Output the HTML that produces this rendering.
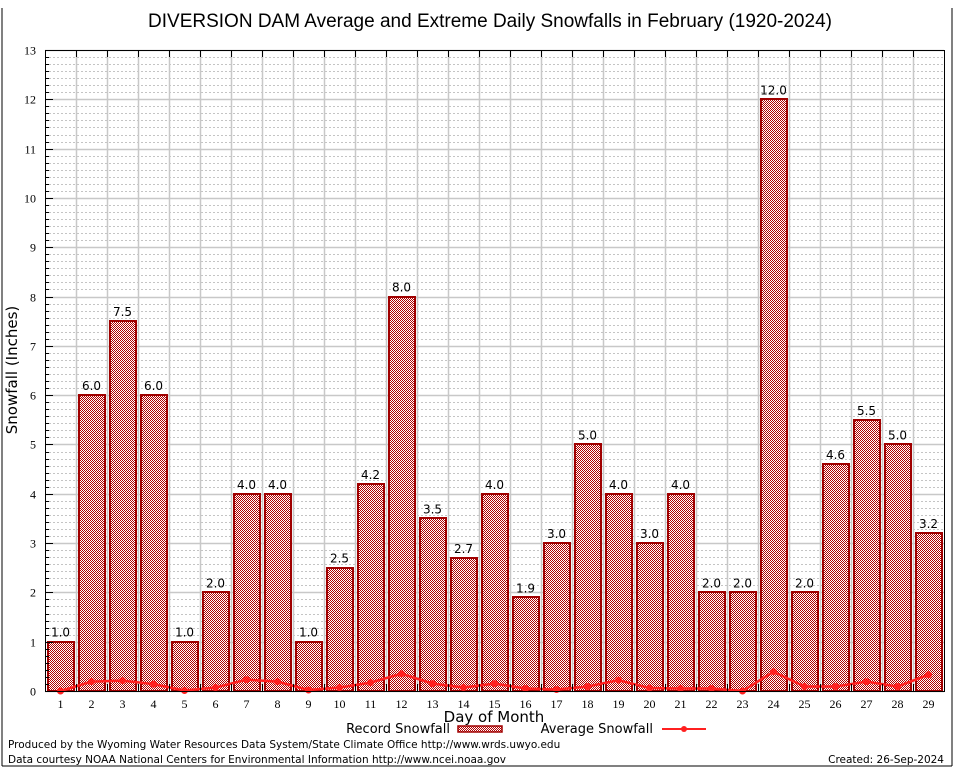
<!DOCTYPE html>
<html><head><meta charset="utf-8"><style>
body{margin:0;background:#fff}
svg{display:block}
.t{font-family:"Liberation Serif",serif;font-size:12px;fill:#000}
.s{font-family:"DejaVu Sans","Liberation Sans",sans-serif;fill:#000}
</style></head><body>
<svg id="c" width="954" height="768">
<defs><pattern id="chk" width="2" height="2" patternUnits="userSpaceOnUse"><rect width="2" height="2" fill="#fff" shape-rendering="crispEdges"/><rect width="1" height="1" fill="#b00000" shape-rendering="crispEdges"/><rect x="1" y="1" width="1" height="1" fill="#b00000" shape-rendering="crispEdges"/></pattern></defs>
<line x1="2" y1="8" x2="2" y2="766" stroke="#000"/>
<line x1="952" y1="8" x2="952" y2="766" stroke="#000"/>
<line x1="2" y1="766" x2="952" y2="766" stroke="#000"/>
<text x="490" y="27" text-anchor="middle" font-family="Liberation Sans,sans-serif" font-size="19">DIVERSION DAM Average and Extreme Daily Snowfalls in February (1920-2024)</text>
<g id="grid"></g><g id="bars"></g><g id="line"></g><g id="axes"></g>
<text transform="translate(17,370) rotate(-90)" text-anchor="middle" class="s" font-size="15">Snowfall (Inches)</text>
<text x="494" y="722" text-anchor="middle" class="s" font-size="15">Day of Month</text>
<g>
<text x="450" y="733" text-anchor="end" class="s" font-size="13">Record Snowfall</text>
<rect x="458" y="726" width="44" height="6" fill="url(#chk)" stroke="#a00000" stroke-width="1.5"/>
<text x="653" y="733" text-anchor="end" class="s" font-size="13">Average Snowfall</text>
<line x1="662" y1="729" x2="706" y2="729" stroke="#ff2020" stroke-width="2"/>
<circle cx="684" cy="729" r="3" fill="#ff2020"/>
</g>
<text x="8" y="748" class="s" font-size="10.5">Produced by the Wyoming Water Resources Data System/State Climate Office http://www.wrds.uwyo.edu</text>
<text x="8" y="763" class="s" font-size="10.5">Data courtesy NOAA National Centers for Environmental Information http://www.ncei.noaa.gov</text>
<text x="944" y="763" text-anchor="end" class="s" font-size="10.5">Created: 26-Sep-2024</text>
</svg>
<script>
const days=[1,2,3,4,5,6,7,8,9,10,11,12,13,14,15,16,17,18,19,20,21,22,23,24,25,26,27,28,29];
const recordValues=[1.0,6.0,7.5,6.0,1.0,2.0,4.0,4.0,1.0,2.5,4.2,8.0,3.5,2.7,4.0,1.9,3.0,5.0,4.0,3.0,4.0,2.0,2.0,12.0,2.0,4.6,5.5,5.0,3.2];
const averageValues=[0.0,0.19,0.21,0.14,0.01,0.07,0.23,0.19,0.02,0.07,0.17,0.35,0.15,0.07,0.15,0.05,0.03,0.09,0.22,0.06,0.05,0.05,0.0,0.39,0.09,0.09,0.19,0.09,0.33];
const yTicks=[0,1,2,3,4,5,6,7,8,9,10,11,12,13];
const L=45,R=944,T=50,B=691,yMax=13;
const slot=(R-L)/days.length;
const x=i=>L+slot*(i+0.5);
const y=v=>B-(B-T)*v/yMax;
const NS='http://www.w3.org/2000/svg';
function mk(tag,attrs,parent){const e=document.createElementNS(NS,tag);for(const k in attrs)e.setAttribute(k,attrs[k]);parent.appendChild(e);return e;}
const grid=document.getElementById('grid'),bars=document.getElementById('bars'),line=document.getElementById('line'),axes=document.getElementById('axes');
for(let k=0;k<yMax*7;k++){if(k%7===0)continue;const yy=Math.round(y(k/7))+0.5;const e=mk('line',{x1:L,x2:R,y1:yy,y2:yy,stroke:'#c4c4c4','stroke-dasharray':'2,2','stroke-width':1},grid);


mk('line',{x1:L,x2:L+4,y1:yy,y2:yy,stroke:'#000'},axes);}
yTicks.forEach(v=>{const yy=Math.round(y(v))+0.5;const g=mk('line',{x1:L,x2:R,y1:yy,y2:yy,stroke:'#c8c8c8','stroke-width':1.5},grid);


mk('line',{x1:L,x2:L+8,y1:yy,y2:yy,stroke:'#000'},axes);
const t=mk('text',{x:L-9,y:yy+4,'text-anchor':'end',class:'t'},axes);t.textContent=v;

});
for(let i=1;i<days.length;i++){const xx=Math.round(L+slot*i)+0.5;const g=mk('line',{x1:xx,x2:xx,y1:T,y2:B,stroke:'#c8c8c8','stroke-width':1.5},grid);


mk('line',{x1:xx,x2:xx,y1:T,y2:T+7,stroke:'#000'},axes);mk('line',{x1:xx,x2:xx,y1:B,y2:B-7,stroke:'#000'},axes);}
days.forEach((d,i)=>{const v=recordValues[i];const r=mk('rect',{x:Math.round(x(i)-13),y:Math.round(y(v)),width:26,height:B-Math.round(y(v)),fill:'url(#chk)',stroke:'#a00000','stroke-width':2},bars);


const t=mk('text',{x:x(i),y:y(v)-5,'text-anchor':'middle',class:'s','font-size':12},bars);t.textContent=v.toFixed(1);


const xl=mk('text',{x:x(i),y:B+17,'text-anchor':'middle',class:'t'},axes);xl.textContent=d;

});
const pl=mk('polyline',{points:averageValues.map((v,i)=>x(i)+','+y(v)).join(' '),fill:'none',stroke:'#ff2020','stroke-width':2.5},line);


averageValues.forEach((v,i)=>{const c=mk('circle',{cx:x(i),cy:y(v),r:3.5,fill:'#ff2020'},line);

});
const fr=mk('rect',{x:L+0.5,y:T+0.5,width:R-L,height:B-T,fill:'none',stroke:'#000','stroke-width':1},axes);


</script>
</body></html>
